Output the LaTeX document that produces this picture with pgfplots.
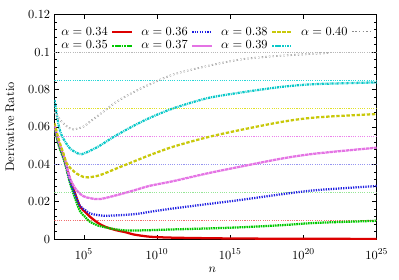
\documentclass[11pt,border=0pt]{standalone}
\usepackage{pgfplots}
\pgfplotsset{compat=1.18}
\definecolor{cR}{RGB}{220,0,0}
\definecolor{cG}{RGB}{0,200,0}
\definecolor{cB}{RGB}{30,30,225}
\definecolor{cM}{RGB}{228,115,228}
\definecolor{cY}{RGB}{200,200,10}
\definecolor{cC}{RGB}{10,200,200}
\definecolor{cK}{RGB}{140,140,140}
\definecolor{rR}{RGB}{240,110,110}
\definecolor{rG}{RGB}{150,230,150}
\definecolor{rB}{RGB}{150,150,240}
\definecolor{rM}{RGB}{235,130,235}
\definecolor{rY}{RGB}{225,225,40}
\definecolor{rC}{RGB}{40,215,215}
\definecolor{rK}{RGB}{185,185,185}
\begin{document}
\begin{tikzpicture}
\path[use as bounding box] (-48.2pt,-35.4pt) rectangle (304.7pt,211.5pt);
\begin{axis}[
  at={(0pt,0pt)}, anchor=south west,
  scale only axis, width=285pt, height=198.5pt,
  xmin=3, xmax=25, ymin=0, ymax=0.12,
  xtick={5,10,15,20,25},
  xticklabels={$10^{5}$,$10^{10}$,$10^{15}$,$10^{20}$,$10^{25}$},
  ytick={0,0.02,0.04,0.06,0.08,0.1,0.12},
  minor y tick num=4,
  scaled y ticks=false,
  yticklabel style={/pgf/number format/fixed,/pgf/number format/precision=2},
  tick label style={font=\normalsize},
  xticklabel style={yshift=-5pt},
  label style={font=\normalsize},
  tick align=inside,
  major tick length=4pt, minor tick length=2pt,
  every tick/.style={black, line width=0.5pt},
  axis line style={line width=0.8pt},
  xlabel={$n$}, ylabel={Derivative Ratio},
  every axis x label/.style={at={(axis description cs:0.49,-0.138)}, anchor=center},
  every axis y label/.style={at={(axis description cs:-0.138,0.5)}, rotate=90, anchor=center},
  legend style={draw=none, fill=none, at={(axis description cs:0.01,0.948)}, anchor=north west,
    legend columns=2, font=\normalsize, row sep=2.5pt, inner sep=0pt,
    nodes={inner ysep=0.5pt, inner xsep=3pt},
    /tikz/every even column/.append style={column sep=4.5pt}},
  transpose legend,
  legend plot pos=right,
  legend cell align=left,
  clip=true,
]
% reference levels
\addplot[forget plot, rR, line width=0.5pt, dash pattern=on 1pt off 1pt] coordinates {(3,0.01) (25,0.01)};
\addplot[forget plot, rG, line width=0.5pt, dash pattern=on 1pt off 1pt] coordinates {(3,0.025) (25,0.025)};
\addplot[forget plot, rB, line width=0.5pt, dash pattern=on 1pt off 1pt] coordinates {(3,0.04) (25,0.04)};
\addplot[forget plot, rM, line width=0.5pt, dash pattern=on 1pt off 1pt] coordinates {(3,0.055) (25,0.055)};
\addplot[forget plot, rY, line width=0.5pt, dash pattern=on 1pt off 1pt] coordinates {(3,0.07) (25,0.07)};
\addplot[forget plot, rC, line width=0.5pt, dash pattern=on 1pt off 1pt] coordinates {(3,0.085) (25,0.085)};
\addplot[forget plot, rK, line width=0.5pt, dash pattern=on 1pt off 1pt] coordinates {(3,0.1) (25,0.1)};
% alpha = 0.34
\addplot[cR, line width=2pt, solid, smooth] coordinates {
(3.0,0.060) (3.3,0.051) (3.7,0.042) (4.06,0.032) (4.4,0.0245) (4.74,0.0175) (5.1,0.0145)
(5.42,0.0120) (6.0,0.0085) (6.5,0.0065) (7.2,0.0048) (7.9,0.0036) (8.4,0.0025) (9.5,0.0013)
(11,0.0008) (13.4,0.0005) (16,0.0003) (20,0.0002) (25,0.0001)};
\addlegendentry{$\alpha = 0.34$}
% alpha = 0.35
\addplot[cG, line width=2pt, dash pattern=on 1.4pt off 0.7pt, smooth] coordinates {
(3.0,0.059) (3.3,0.050) (3.7,0.041) (4.06,0.030) (4.4,0.022) (4.74,0.0150) (5.1,0.0118)
(5.42,0.0093) (6.0,0.0072) (6.3,0.0066) (7.2,0.0052) (8.0,0.0046) (9.5,0.0048) (11.1,0.0052)
(13.4,0.0057) (15.65,0.0063) (18.6,0.0075) (20.9,0.0087) (25,0.0098)};
\addlegendentry{$\alpha = 0.35$}
% alpha = 0.36
\addplot[cB, line width=2pt, dash pattern=on 1.1pt off 1.1pt, smooth] coordinates {
(3.0,0.060) (3.3,0.051) (3.7,0.042) (4.06,0.031) (4.4,0.024) (4.74,0.0178) (5.1,0.0155)
(5.42,0.0138) (6.0,0.0128) (6.56,0.0125) (7.9,0.0130) (8.83,0.0137) (9.5,0.0146) (11.1,0.0164)
(13.4,0.0187) (15.65,0.0209) (18.6,0.0241) (20.9,0.0262) (25,0.0284)};
\addlegendentry{$\alpha = 0.36$}
% alpha = 0.37
\addplot[cM, line width=2pt, dash pattern=on 3pt off 0.6pt, smooth] coordinates {
(3.0,0.061) (3.3,0.052) (3.7,0.043) (4.06,0.0325) (4.5,0.0262) (4.96,0.0230) (5.5,0.0218)
(6.1,0.0214) (7.24,0.0235) (8.4,0.0260) (9.5,0.0285) (11.1,0.0310) (13.4,0.0351)
(15.65,0.0387) (18.6,0.0432) (20.9,0.0458) (25,0.0489)};
\addlegendentry{$\alpha = 0.37$}
% alpha = 0.38
\addplot[cY, line width=2pt, dash pattern=on 3pt off 1.5pt, smooth] coordinates {
(3.0,0.062) (3.3,0.053) (3.6,0.046) (3.83,0.0405) (4.06,0.0382) (4.5,0.0351) (4.96,0.0333)
(5.3,0.0330) (6.1,0.0342) (7.24,0.0378) (8.38,0.0414) (9.5,0.0449) (11.1,0.0494)
(13.4,0.0544) (15.65,0.0583) (18.6,0.0628) (20.9,0.0651) (25,0.0669)};
\addlegendentry{$\alpha = 0.38$}
% alpha = 0.39
\addplot[cC, line width=2pt, dash pattern=on 2pt off 0.8pt on 0.8pt off 0.8pt, smooth] coordinates {
(3.0,0.0744) (3.26,0.0619) (3.5,0.0553) (4.06,0.0485) (4.7,0.0455) (5.0,0.0458) (5.5,0.0475)
(6.1,0.0500) (6.8,0.0535) (7.24,0.0556) (8.38,0.0605) (9.5,0.0648) (11.1,0.0699)
(13.4,0.0753) (15.65,0.0783) (18.6,0.0815) (20.9,0.0829) (25,0.0838)};
\addlegendentry{$\alpha = 0.39$}
% alpha = 0.40
\addplot[cK, line width=0.5pt, double=white, double distance=0.6pt, dash pattern=on 1.2pt off 2pt, smooth] coordinates {
(3.0,0.0680) (3.49,0.0628) (3.9,0.0600) (4.28,0.0587) (4.96,0.0601) (5.42,0.0628)
(6.33,0.0681) (7.24,0.0735) (8.38,0.0785) (9.29,0.0820) (11.1,0.0880) (13.4,0.0925)
(15.65,0.0960) (17.5,0.0975) (19.75,0.0987) (21.8,0.0996)};
\addlegendentry{$\alpha = 0.40$}
\end{axis}
\end{tikzpicture}
\end{document}
